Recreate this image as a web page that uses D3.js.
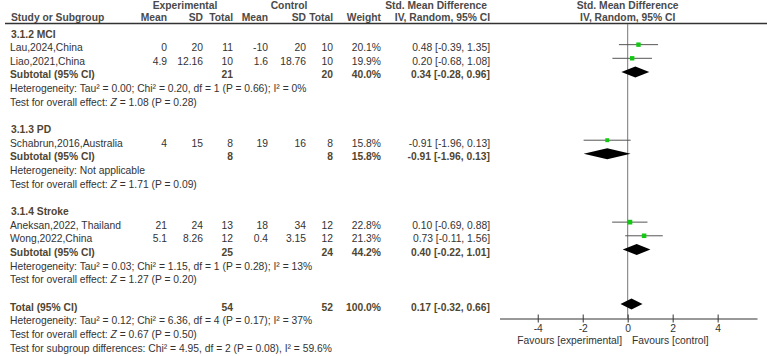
<!DOCTYPE html>
<html>
<head>
<meta charset="utf-8">
<script src="https://cdn.jsdelivr.net/npm/d3@7"></script>
<style>
  body { margin: 0; background: #fff; }
  text { font-family: "Liberation Sans", Arial, sans-serif; font-size: 10.3px; fill: #333; }
  .bold { font-weight: bold; fill: #4f4530; }
  .head { font-weight: bold; fill: #4a4a4a; }
</style>
</head>
<body>
<div id="forest"></div>
<script>
// studies
var groupNames = ["3.1.2 MCI", "3.1.3 PD", "3.1.4 Stroke"];
var studyNames = ["Lau,2024,China", "Liao,2021,China", "Schabrun,2016,Australia", "Aneksan,2022, Thailand", "Wong,2022,China"];
var studyGroup = [0, 0, 1, 2, 2];
var expMean = ["0", "4.9", "4", "21", "5.1"];
var expSD = ["20", "12.16", "15", "24", "8.26"];
var expTotal = [11, 10, 8, 13, 12];
var ctlMean = ["-10", "1.6", "19", "18", "0.4"];
var ctlSD = ["20", "18.76", "16", "34", "3.15"];
var ctlTotal = [10, 10, 8, 12, 12];
var weights = [20.1, 19.9, 15.8, 22.8, 21.3];
var smd = [0.48, 0.20, -0.91, 0.10, 0.73];
var ciLow = [-0.39, -0.68, -1.96, -0.69, -0.11];
var ciHigh = [1.35, 1.08, 0.13, 0.88, 1.56];

// subtotals
var subExpTotal = [21, 8, 25];
var subCtlTotal = [20, 8, 24];
var subWeight = [40.0, 15.8, 44.2];
var subSmd = [0.34, -0.91, 0.40];
var subLow = [-0.28, -1.96, -0.22];
var subHigh = [0.96, 0.13, 1.01];
var subHetero = [
  "Heterogeneity: Tau\u00b2 = 0.00; Chi\u00b2 = 0.20, df = 1 (P = 0.66); I\u00b2 = 0%",
  "Heterogeneity: Not applicable",
  "Heterogeneity: Tau\u00b2 = 0.03; Chi\u00b2 = 1.15, df = 1 (P = 0.28); I\u00b2 = 13%"
];
var subZ = ["1.08 (P = 0.28)", "1.71 (P = 0.09)", "1.27 (P = 0.20)"];

// total
var totalExp = 54;
var totalCtl = 52;
var totalWeight = 100.0;
var totalSmd = 0.17;
var totalLow = -0.32;
var totalHigh = 0.66;
var totalHetero = "Heterogeneity: Tau\u00b2 = 0.12; Chi\u00b2 = 6.36, df = 4 (P = 0.17); I\u00b2 = 37%";
var totalZ = "0.67 (P = 0.50)";
var subgroupTest = "Test for subgroup differences: Chi\u00b2 = 4.95, df = 2 (P = 0.08), I\u00b2 = 59.6%";

var axisTicks = [-4, -2, 0, 2, 4];

forest();

function fmt(v) { return v.toFixed(2); }
function ci(e, l, h) { return fmt(e) + " [" + fmt(l) + ", " + fmt(h) + "]"; }

function forest() {
  var width = 767;
  var height = 356;

  // build the row list
  var rows = [];
  groupNames.forEach(function(g, gi) {
    rows.push({type: "group", label: g});
    studyNames.forEach(function(s, i) {
      if (studyGroup[i] != gi) return;
      rows.push({type: "study", label: s, em: expMean[i], es: expSD[i], et: expTotal[i],
        cm: ctlMean[i], cs: ctlSD[i], ct: ctlTotal[i], w: weights[i], est: smd[i], lo: ciLow[i], hi: ciHigh[i]});
    });
    rows.push({type: "sub", label: "Subtotal (95% CI)", et: subExpTotal[gi], ct: subCtlTotal[gi],
      w: subWeight[gi], est: subSmd[gi], lo: subLow[gi], hi: subHigh[gi]});
    rows.push({type: "note", label: subHetero[gi]});
    rows.push({type: "z", label: subZ[gi]});
    if (gi < groupNames.length - 1) rows.push({type: "blank"});
  });
  rows.push({type: "blank"});
  rows.push({type: "sub", label: "Total (95% CI)", et: totalExp, ct: totalCtl, w: totalWeight,
    est: totalSmd, lo: totalLow, hi: totalHigh});
  rows.push({type: "note", label: totalHetero});
  rows.push({type: "z", label: totalZ});
  rows.push({type: "note", label: subgroupTest});

  var svg = d3.select("#forest")
    .append("svg")
    .attr("width", width)
    .attr("height", height);

  var y = d3.scaleLinear()
    .domain([0, rows.length - 1])
    .range([31, 345]);

  var x = d3.scaleLinear()
    .domain([-5.7, 5.75])
    .range([499.5, 757]);

  var sq = d3.scaleSqrt()
    .domain([0, 20])
    .range([0, 4.4]);

  // column right edges
  var cols = {em: 167, es: 203, et: 233, cm: 268, cs: 306, ct: 333, w: 381, ci: 490};

  // headers
  svg.append("text").attr("class", "head").attr("x", 185).attr("y", 9)
    .style("text-anchor", "middle").text("Experimental");
  svg.append("text").attr("class", "head").attr("x", 289).attr("y", 9)
    .style("text-anchor", "middle").text("Control");
  svg.append("text").attr("class", "head").attr("x", 487).attr("y", 9)
    .style("text-anchor", "end").text("Std. Mean Difference");
  svg.append("text").attr("class", "head").attr("x", x(0)).attr("y", 9)
    .style("text-anchor", "middle").text("Std. Mean Difference");

  var sub = [["Study or Subgroup", 11, "start"], ["Mean", cols.em, "end"], ["SD", cols.es, "end"],
    ["Total", cols.et, "end"], ["Mean", cols.cm, "end"], ["SD", cols.cs, "end"], ["Total", cols.ct, "end"],
    ["Weight", cols.w, "end"], ["IV, Random, 95% CI", cols.ci, "end"], ["IV, Random, 95% CI", x(0), "middle"]];
  sub.forEach(function(h) {
    svg.append("text").attr("class", "head").attr("x", h[1]).attr("y", 20.5)
      .style("text-anchor", h[2]).text(h[0]);
  });

  svg.append("line")
    .style("stroke", "#333")
    .style("stroke-width", 1.3)
    .attr("x1", 5).attr("x2", width)
    .attr("y1", 23.5).attr("y2", 23.5);

  // zero line
  svg.append("line")
    .style("stroke", "#777")
    .attr("x1", x(0)).attr("x2", x(0))
    .attr("y1", 24).attr("y2", 318.5);

  // table text
  rows.forEach(function(r, i) {
    var ty = y(i) + 6.5;
    if (r.type == "blank") return;
    if (r.type == "group") {
      svg.append("text").attr("class", "bold").attr("x", 11).attr("y", ty).text(r.label);
      return;
    }
    if (r.type == "note") {
      svg.append("text").attr("x", 10).attr("y", ty).text(r.label);
      return;
    }
    if (r.type == "z") {
      var t = svg.append("text").attr("x", 10).attr("y", ty);
      t.append("tspan").text("Test for overall effect: ");
      t.append("tspan").style("font-style", "italic").text("Z");
      t.append("tspan").text(" = " + r.label);
      return;
    }
    var cls = r.type == "sub" ? "bold" : null;
    svg.append("text").attr("class", cls).attr("x", 10).attr("y", ty).text(r.label);
    var cells = [["et", r.et], ["ct", r.ct], ["w", r.w.toFixed(1) + "%"], ["ci", ci(r.est, r.lo, r.hi)]];
    if (r.type == "study") {
      cells = cells.concat([["em", r.em], ["es", r.es], ["cm", r.cm], ["cs", r.cs]]);
    }
    cells.forEach(function(c) {
      svg.append("text").attr("class", cls).attr("x", cols[c[0]]).attr("y", ty)
        .style("text-anchor", "end").text(c[1]);
    });
  });

  // plot marks
  var studyRows = rows.map(function(r, i) { r.i = i; return r; })
    .filter(function(r) { return r.type == "study"; });
  var subRows = rows.filter(function(r) { return r.type == "sub"; });

  svg.selectAll("line.ci")
    .data(studyRows)
    .enter()
    .append("line")
    .attr("class", "ci")
    .style("stroke", "#555")
    .attr("x1", function(d) { return x(d.lo); })
    .attr("x2", function(d) { return x(d.hi); })
    .attr("y1", function(d) { return y(d.i); })
    .attr("y2", function(d) { return y(d.i); });

  svg.selectAll("rect.box")
    .data(studyRows)
    .enter()
    .append("rect")
    .attr("class", "box")
    .attr("fill", "#13c813")
    .attr("x", function(d) { return x(d.est) - sq(d.w) / 2; })
    .attr("y", function(d) { return y(d.i) - sq(d.w) / 2; })
    .attr("width", function(d) { return sq(d.w); })
    .attr("height", function(d) { return sq(d.w); });

  svg.selectAll("path.diamond")
    .data(subRows)
    .enter()
    .append("path")
    .attr("class", "diamond")
    .attr("fill", "#000")
    .attr("d", function(d) {
      var cy = y(d.i);
      return "M" + x(d.lo) + "," + cy + "L" + x(d.est) + "," + (cy - 5.5) +
        "L" + x(d.hi) + "," + cy + "L" + x(d.est) + "," + (cy + 5.5) + "Z";
    });

  // axis
  var axis = svg.append("g")
    .attr("transform", "translate(0,318.5)")
    .call(d3.axisBottom(x).tickValues(axisTicks).tickSize(4).tickSizeOuter(0).tickPadding(2)
      .tickFormat(function(d) { return String(d); }));
  axis.selectAll("path, line").style("stroke", "#333");
  axis.selectAll(".tick line").attr("y1", -4);
  axis.selectAll("text").style("font-size", "10.3px").style("font-family", null).attr("fill", "#333");

  svg.append("text").attr("x", 622).attr("y", 344)
    .style("text-anchor", "end").text("Favours [experimental]");
  svg.append("text").attr("x", 632).attr("y", 344).text("Favours [control]");
}
</script>
</body>
</html>
